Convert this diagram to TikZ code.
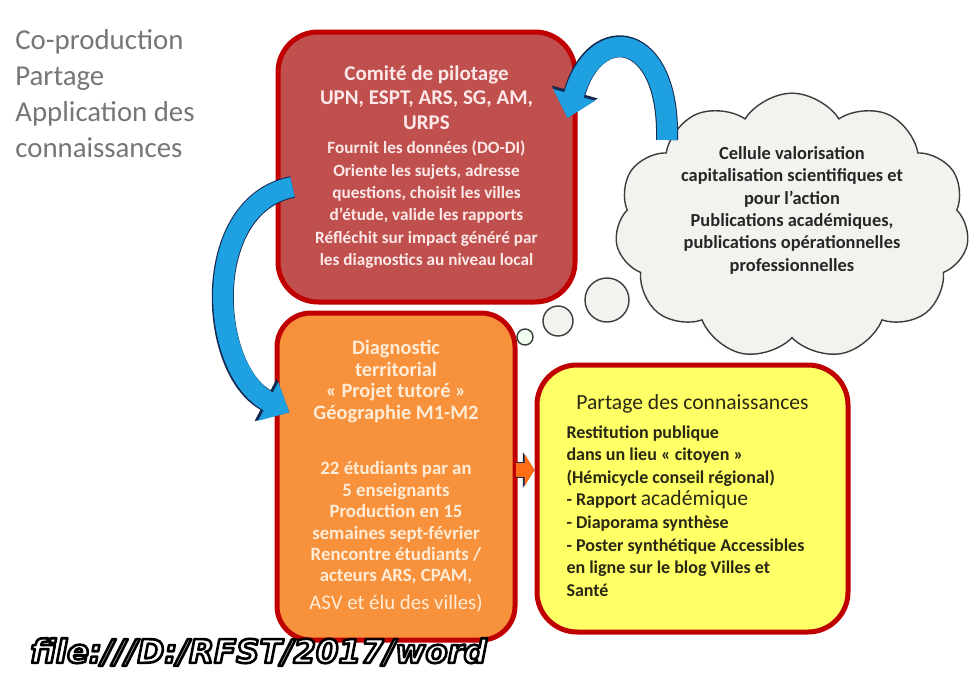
\documentclass[tikz,border=0pt]{standalone}
\usepackage{fontspec}
\setmainfont{Carlito}
\newfontfamily\pathfont{DejaVu Sans}
\usetikzlibrary{arrows.meta,shapes.symbols,positioning}
\definecolor{boxborder}{RGB}{192,0,0}
\definecolor{steerfill}{RGB}{192,80,77}
\definecolor{steertext}{RGB}{252,232,232}
\definecolor{diagfill}{RGB}{248,145,60}
\definecolor{diagtext}{RGB}{255,236,215}
\definecolor{sharefill}{RGB}{255,255,102}
\definecolor{sharetext}{RGB}{40,40,20}
\definecolor{cloudfill}{RGB}{242,242,238}
\definecolor{cloudline}{RGB}{60,60,60}
\definecolor{headgray}{RGB}{118,118,118}
\definecolor{arrowblue}{RGB}{30,160,225}
\definecolor{arrownavy}{RGB}{20,40,80}
\definecolor{arroworange}{RGB}{255,110,20}
\tikzset{%
	heading/.style    = {anchor=west, align=left, inner sep=0pt, text=headgray, font=\fontsize{14.4}{18}\selectfont},
	roundbox/.style   = {draw=boxborder, line width=2.5pt, rounded corners=20pt, align=flush center, inner sep=0pt},
	cellcloud/.style  = {cloud, cloud puffs=11, cloud puff arc=115, aspect=1.42, draw=cloudline, line width=0.7pt, fill=cloudfill, minimum width=177pt, minimum height=125pt, align=flush center, inner sep=0pt, text=black!85, font=\bfseries\fontsize{9.2}{11.2}\selectfont},
	bubble/.style     = {circle, draw=cloudline, line width=0.7pt, fill=cloudfill, inner sep=0pt},
	bluearrow/.style  = {line width=10pt, draw=arrowblue, -{Triangle[length=12pt,width=21pt]},
	                     preaction={draw=arrownavy, line width=11pt, -{Triangle[length=13.5pt,width=23pt]}}},
	smallarrow/.style = {line width=7pt, draw=arroworange, -{Triangle[length=5pt,width=16pt]},
	                     preaction={draw=arrownavy, line width=7.6pt, -{Triangle[length=5.8pt,width=17.5pt]}}},
}
% white letters with a black stroke
\newcommand\outlined[1]{\special{pdf:code q 2 Tr 1.3 w 1 j 0 0 0 RG 1 1 1 rg}#1\special{pdf:code Q}}

\begin{document}
\begin{tikzpicture}[x=0.5pt,y=-0.5pt]
	\useasboundingbox (0,0) rectangle (976,686);
	\fill[white] (0,0) rectangle (976,686);
	
	\node[heading] (intro) at (15,94) {Co-production\\Partage\\Application des\\connaissances};
	
	% three boxes
	\node[roundbox, fill=steerfill, text=steertext, minimum width=148.5pt, minimum height=135pt, text width=140pt] (steer) at (426.5,167)
	{\bfseries\fontsize{10.5}{12.3}\selectfont Comité de pilotage\\UPN, ESPT, ARS, SG, AM,\\URPS\par
	 \vspace{1pt}\fontsize{8.6}{11.2}\selectfont Fournit les données (DO-DI)\\Oriente les sujets, adresse\\questions, choisit les villes\\d’étude, valide les rapports\\Réfléchit sur impact généré par\\les diagnostics au niveau local\par};
	
	\node[roundbox, rounded corners=17pt, fill=diagfill, text=diagtext, minimum width=119pt, minimum height=163.5pt, text width=112pt] (diag) at (396,476.5)
	{\bfseries\fontsize{10.2}{10.8}\selectfont Diagnostic\\territorial\\« Projet tutoré »\\Géographie M1-M2\par
	 \vspace{17pt}\fontsize{9.4}{10.7}\selectfont 22 étudiants par an\\5 enseignants\\Production en 15\\semaines sept-février\\Rencontre étudiants /\\acteurs ARS, CPAM,\par
	 \vspace{3pt}\mdseries\fontsize{10.4}{11}\selectfont ASV et élu des villes)\par};
	
	\node[roundbox, fill=sharefill, text=sharetext, minimum width=155.5pt, minimum height=133.5pt, text width=126pt, align=flush left] (share) at (692.5,498.5)
	{\fontsize{10.8}{13}\selectfont\makebox[\linewidth][c]{Partage des connaissances}\par
	 \vspace{3pt}\bfseries\fontsize{9}{11.3}\selectfont Restitution publique\\dans un lieu « citoyen »\\(Hémicycle conseil régional)\\- Rapport {\mdseries\fontsize{10.8}{11.3}\selectfont académique}\\- Diaporama synthèse\\- Poster synthétique Accessibles\\en ligne sur le blog Villes et\\Santé\par\vspace{3pt}};
	
	% thought cloud
	\node[cellcloud] (cell) at (792,226) {Cellule valorisation\\capitalisation scientifiques et\\pour l’action\\Publications académiques,\\publications opérationnelles\\professionnelles\\[6pt]\mbox{}};
	\node[bubble, minimum size=22pt] (bubA) at (607,300) {};
	\node[bubble, minimum size=15pt] (bubB) at (558,321) {};
	\node[bubble, minimum size=8pt, fill=green!6] (bubC) at (525,337) {};
	
	% arrows
	\draw[bluearrow] ([shift={(17,20)}]steer.west) .. controls (200,205) and (208,370) .. ([shift={(15,-64)}]diag.west);
	\draw[bluearrow] ([shift={(-125,-86)}]cell.center) .. controls (670,30) and (595,20) .. ([shift={(-10,-49)}]steer.east);
	\draw[smallarrow] ([shift={(-2,-6.5)}]diag.east) -- ([shift={(0,-28.5)}]share.west);
	
	\node[anchor=west, inner sep=0pt] (footer) at (30,652) {\pathfont\bfseries\itshape\fontsize{16.2}{18}\selectfont\outlined{file:///D:/RFST/2017/word}};
	
\end{tikzpicture}
\end{document}
